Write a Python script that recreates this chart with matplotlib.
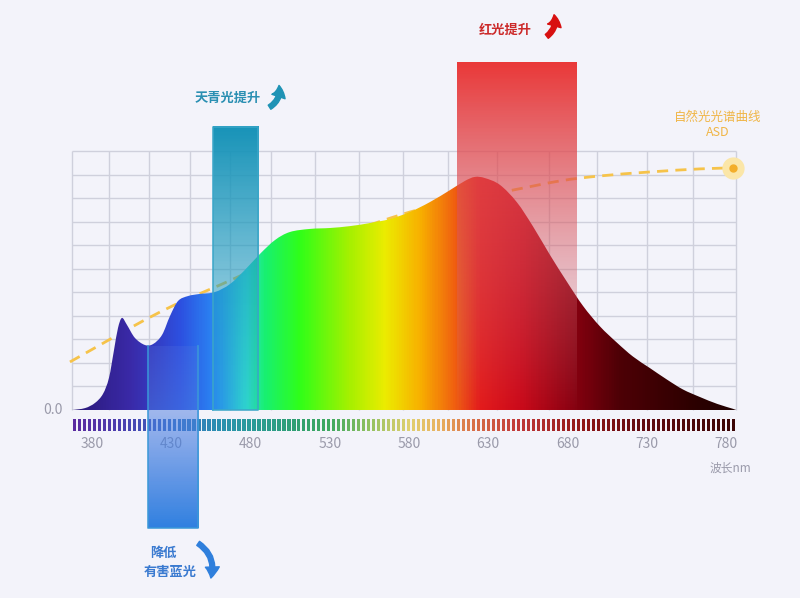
import numpy as np
import matplotlib
matplotlib.use('Agg')
import matplotlib.pyplot as plt
from matplotlib.colors import LinearSegmentedColormap, to_rgb
from matplotlib.patches import PathPatch, FancyArrowPatch
from matplotlib.path import Path

plt.rcParams['font.family'] = ['Noto Sans CJK SC', 'DejaVu Sans']

# LED spectrum: wavelength (nm) and relative intensity
wl = [367.4, 375.6, 381.9, 386.9, 390.7, 393.9, 396.4, 398.9, 402.1, 407.1,
      413.4, 418.5, 424.2, 429.2, 434.3, 440.6, 448.1, 457.6, 467.1, 476.5,
      486.0, 495.5, 504.9, 517.5, 530.2, 542.8, 555.4, 568.0, 580.6, 593.2,
      605.9, 615.3, 621.6, 627.9, 637.4, 648.1, 658.2, 669.0, 679.7, 689.8,
      700.5, 711.2, 721.3, 732.0, 742.8, 752.9, 763.6, 774.4, 784.4, 786.3]
spd = [0.0, 0.08, 0.30, 0.68, 1.36, 2.55, 3.48, 3.91, 3.61, 3.06,
       2.76, 2.80, 3.19, 3.99, 4.63, 4.84, 4.93, 5.01, 5.35, 5.95,
       6.63, 7.22, 7.56, 7.69, 7.73, 7.81, 7.94, 8.11, 8.41, 8.83,
       9.34, 9.73, 9.90, 9.85, 9.56, 8.82, 7.80, 6.58, 5.44, 4.42,
       3.55, 2.86, 2.27, 1.78, 1.29, 0.87, 0.55, 0.26, 0.05, 0.0]

# natural light (ASD) reference curve
asd_wl = [366.1, 385.0, 404.0, 422.9, 441.8, 460.8, 511.2, 574.3, 612.2,
          642.5, 675.3, 700.5, 732.1, 763.6, 784.4]
asd_val = [2.04, 2.76, 3.48, 4.16, 4.76, 5.31, 6.80, 8.28, 8.92,
           9.30, 9.73, 9.94, 10.11, 10.24, 10.28]

tick_labels = [380, 430, 480, 530, 580, 630, 680, 730, 780]
grid_x = [367.4, 390.7, 416.0, 441.8, 467.1, 492.9, 520.7, 548.5, 576.2,
          604.6, 635.5, 668.3, 698.6, 730.2, 759.2, 786.3]
n_rows = 11

# highlighted bands: (start nm, end nm, top, bottom)
cyan_band = (456.3, 484.7, 12.02, 0.0)
red_band = (610.3, 686.0, 14.78, 0.0)
blue_band = (415.3, 446.9, 2.7, -5.01)

bg = '#f3f3fa'
fig = plt.figure(figsize=(8, 5.98), dpi=100, facecolor=bg)
ax = fig.add_axes([0, 0, 1, 1])
ax.set_facecolor(bg)
ax.axis('off')

x0, x1 = wl[0], wl[-1]


def smooth(xs, ys):
    # Catmull-Rom through the points, as bezier segments
    p = np.column_stack([xs, ys])
    verts, codes = [p[0]], [Path.MOVETO]
    for i in range(len(p) - 1):
        a = p[max(i - 1, 0)]
        b, c = p[i], p[i + 1]
        d = p[min(i + 2, len(p) - 1)]
        verts += [b + (c - a) / 6, c - (d - b) / 6, c]
        codes += [Path.CURVE4] * 3
    return verts, codes


# grid
ax.vlines(grid_x, 0, n_rows, color='#cfd0dc', lw=1, zorder=1)
ax.hlines(np.arange(1, n_rows + 1), x0, x1, color='#cfd0dc', lw=1, zorder=1)

# ASD dashed line
v, c = smooth(asd_wl, asd_val)
ax.add_patch(PathPatch(Path(v, c), facecolor='none', edgecolor='#f6c34a', lw=2,
                       linestyle=(0, (4, 2.6)), zorder=2))
ax.plot(asd_wl[-1], asd_val[-1], 'o', ms=15, color='#fbe6a8', zorder=6)
ax.plot(asd_wl[-1], asd_val[-1], 'o', ms=5, color='#f3ae2a', zorder=7)

# rainbow spectrum fill
stops = [(367.4, '#2a1878'), (404, '#3a2aa8'), (435, '#2d50e0'), (458, '#2a8af5'),
         (477, '#30e0d0'), (489, '#18f070'), (511, '#30ff18'), (543, '#a8f000'),
         (565, '#ecec00'), (587, '#f8b000'), (609, '#f06010'), (625, '#e41a1a'),
         (650, '#cc0818'), (682, '#8c0010'), (713, '#4e0006'), (764, '#2a0000'),
         (786.3, '#200000')]
spec_cmap = LinearSegmentedColormap.from_list(
    'spec', [((w - x0) / (x1 - x0), c) for w, c in stops])
img = ax.imshow(spec_cmap(np.linspace(0, 1, 800))[None, :, :],
                extent=(x0, x1, 0, max(spd) + 0.5), aspect='auto',
                interpolation='bilinear', zorder=3)
v, c = smooth(wl, spd)
v += [(x1, 0), (x0, 0), (x0, 0)]
c += [Path.LINETO, Path.LINETO, Path.CLOSEPOLY]
outline = PathPatch(Path(v, c), facecolor='none', edgecolor='none')
ax.add_patch(outline)
img.set_clip_path(outline)


def grad_bar(band, c_top, c_bot, a_top, a_bot, edge, z, top_edge=True):
    n = 256
    t = np.linspace(0, 1, n)[:, None]
    rgba = np.zeros((n, 1, 4))
    rgba[:, :, :3] = (1 - t)[..., None] * np.array(to_rgb(c_top)) + t[..., None] * np.array(to_rgb(c_bot))
    rgba[:, 0, 3] = a_top + (a_bot - a_top) * t[:, 0]
    a, b, top, bot = band
    ax.imshow(rgba, extent=(a, b, bot, top), origin='upper', aspect='auto',
              interpolation='bilinear', zorder=z)
    if edge:
        if top_edge:
            ex, ey = [a, a, b, b, a], [bot, top, top, bot, bot]
        else:
            ex, ey = [a, a, b, b], [top, bot, bot, top]
        ax.plot(ex, ey, color=edge, lw=1.3, alpha=0.85, zorder=z + 0.1)


grad_bar(cyan_band, '#1793b8', '#2aa6c6', 1.0, 0.2, '#3aa6c8', 4)
grad_bar(red_band, '#ea3838', '#c87888', 1.0, 0.02, None, 4)

# color tick strip
tick_x = np.arange(368.8, 786.0, 3.15)
ticks_cmap = LinearSegmentedColormap.from_list('ticks', [
    ((w - x0) / (x1 - x0), c) for w, c in
    [(367.4, '#5a2aa0'), (400, '#4a40b0'), (430, '#3a70c0'), (460, '#2a90b0'),
     (480, '#2a9a9a'), (510, '#30a070'), (530, '#40a860'), (555, '#90c060'),
     (580, '#e0d070'), (600, '#e8b060'), (620, '#d87048'), (650, '#c03838'),
     (690, '#901818'), (730, '#600a10'), (786.3, '#3a0505')]])
ax.bar(tick_x, -0.53, bottom=-0.37, width=2.0,
       color=ticks_cmap((tick_x - x0) / (x1 - x0)), zorder=3)

gray = '#9a9aaa'
for t in tick_labels:
    ax.text(t, -1.45, str(t), ha='center', va='center', fontsize=10, color=gray, zorder=3)
ax.text(361.7, 0, '0.0', ha='right', va='center', fontsize=10, color=gray)
ax.text(782.5, -2.46, '波长nm', ha='center', va='center', fontsize=8.5, color=gray)

grad_bar(blue_band, '#5a78e0', '#2f80e0', 0.22, 1.0, '#3a98d8', 5, top_edge=False)

# annotations
ax.text(465.8, 13.25, '天青光提升', ha='center', va='center', fontsize=9.5,
        fontweight='bold', color='#2a8fb2')
ax.text(640.6, 16.14, '红光提升', ha='center', va='center', fontsize=9.5,
        fontweight='bold', color='#cc2a2a')
ax.text(424.8, -6.07, '降低', ha='center', va='center', fontsize=9.5,
        fontweight='bold', color='#3a7ad0')
ax.text(429.2, -6.88, '有害蓝光', ha='center', va='center', fontsize=9.5,
        fontweight='bold', color='#3a7ad0')
ax.text(775.0, 12.42, '自然光光谱曲线', ha='center', va='center', fontsize=9,
        fontweight='medium', color='#f0b545')
ax.text(775.0, 11.78, 'ASD', ha='center', va='center', fontsize=9,
        fontweight='medium', color='#f0b545')

arrow_kw = dict(arrowstyle='simple,head_length=8,head_width=10,tail_width=3.5',
                mutation_scale=1, zorder=8)
ax.add_patch(FancyArrowPatch((490.5, 12.8), (497.6, 13.9),
                             connectionstyle='arc3,rad=0.4', color='#1f93b5', **arrow_kw))
ax.add_patch(FancyArrowPatch((665.5, 15.8), (671.0, 16.9),
                             connectionstyle='arc3,rad=0.4', color='#d81010', **arrow_kw))
ax.add_patch(FancyArrowPatch((445.5, -5.6), (454.5, -7.25),
                             connectionstyle='arc3,rad=-0.4', color='#2f7fdc', **arrow_kw))

ax.set_xlim(321.96, 826.7)
ax.set_ylim(-7.985, 17.413)
fig.savefig('out.png', dpi=100, facecolor=bg)
